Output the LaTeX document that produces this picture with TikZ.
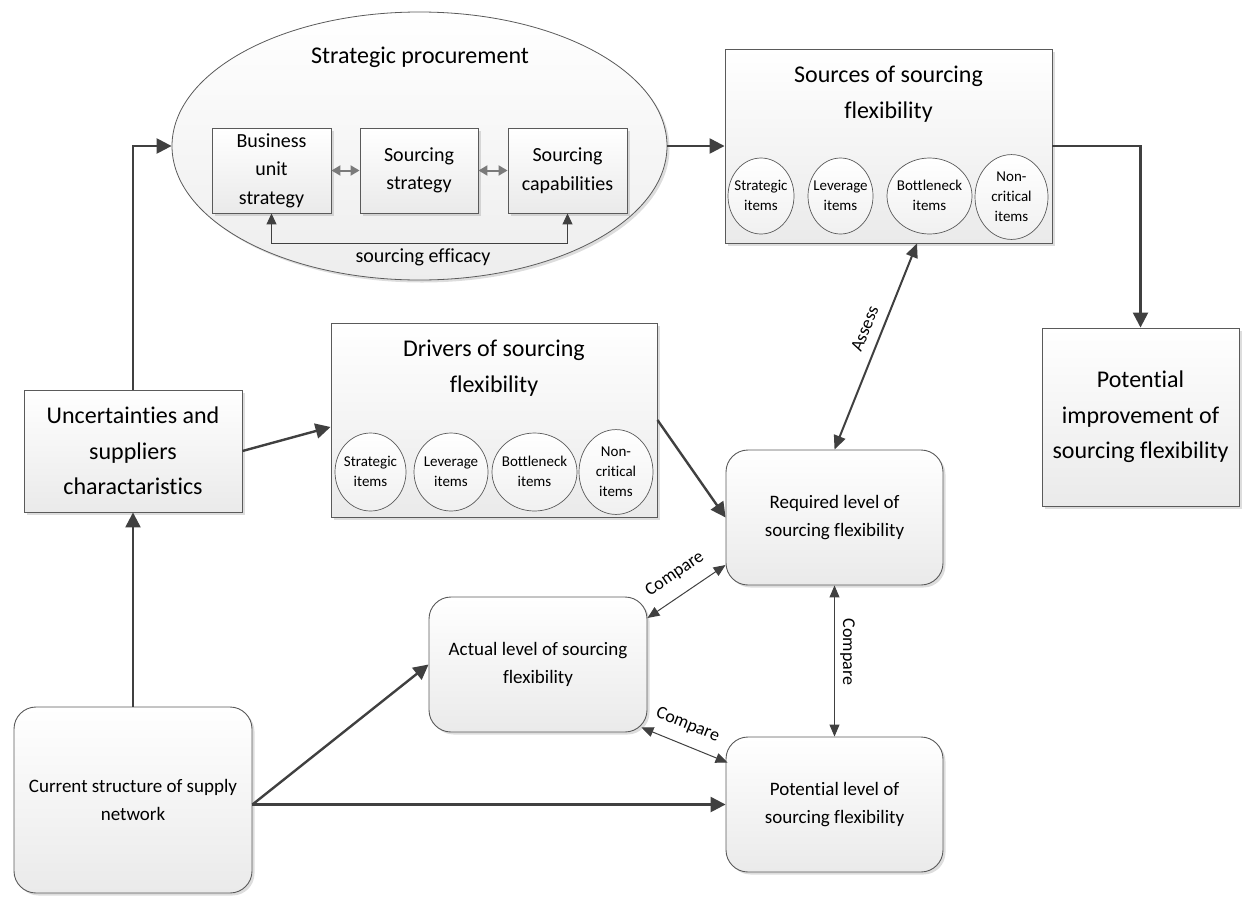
\documentclass[tikz,border=0pt]{standalone}
\usepackage{fontspec}
\setmainfont{Carlito}[Ligatures=NoCommon]
\usetikzlibrary{arrows.meta,shapes.geometric,shadows}
\definecolor{edgegray}{HTML}{5A5A5A}
\definecolor{inkgray}{HTML}{404040}
\definecolor{fillend}{HTML}{EAEAEA}
\definecolor{tipgray}{HTML}{7A7A7A}
% two-line text inside an item circle, taking no width of its own
\newcommand\cellstack[1]{\makebox[0pt]{\begin{tabular}{@{}c@{}}#1\end{tabular}}}
\begin{document}
\begin{tikzpicture}[x=1pt,y=-1pt,
  softshadow/.style={drop shadow={shadow xshift=2.5pt,shadow yshift=-2.5pt,opacity=0.22,fill=black!60}},
  box/.style={draw=edgegray,line width=0.9pt,top color=white,bottom color=fillend,softshadow,align=center,inner sep=0pt},
  roundbox/.style={box,rounded corners=22pt},
  itemnode/.style={ellipse,draw=edgegray,line width=0.7pt,top color=white,bottom color=fillend!70,inner sep=0pt,font=\fontsize{15}{20}\selectfont},
  bigtext/.style={font=\fontsize{24}{35.5}\selectfont,align=center},
  midtext/.style={font=\fontsize{19}{28}\selectfont,align=center},
  subtext/.style={font=\fontsize{20}{28.5}\selectfont,align=center},
  labeltext/.style={font=\fontsize{18}{20}\selectfont,inner sep=2pt},
  flow/.style={draw=inkgray,line width=2.4pt,-{Triangle[length=15pt,width=15pt]}},
  assessline/.style={draw=inkgray,line width=2pt,{Triangle[length=14pt,width=12pt]}-{Triangle[length=14pt,width=12pt]}},
  cmpline/.style={draw=inkgray,line width=1pt,{Triangle[length=12pt,width=10pt]}-{Triangle[length=12pt,width=10pt]}},
  effline/.style={draw=inkgray,line width=1pt,{Triangle[length=11pt,width=10pt]}-{Triangle[length=11pt,width=10pt]}},
  linkline/.style={draw=tipgray,line width=2pt,{Triangle[length=9pt,width=10pt]}-{Triangle[length=9pt,width=10pt]}}
]
\useasboundingbox (0,0) rectangle (1246,897);

% strategic procurement ellipse with its three boxes
\node[ellipse,draw=edgegray,line width=0.8pt,top color=white,bottom color=fillend!85,softshadow,
      minimum width=495pt,minimum height=268pt,inner sep=0pt] (proc) at (419.5,146) {};
\node[bigtext] (proctitle) at (420,57) {Strategic procurement};
\node[box,subtext,minimum width=119pt,minimum height=85pt] (bus) at (271.5,170.5) {Business\\unit\\strategy};
\node[box,subtext,minimum width=118pt,minimum height=85pt] (sstr) at (419,170.5) {Sourcing\\strategy};
\node[box,subtext,minimum width=119pt,minimum height=85pt] (scap) at (567.5,170.5) {Sourcing\\capabilities};

% sources of sourcing flexibility
\node[box,minimum width=327pt,minimum height=194pt] (src) at (888.5,146) {};
\node[bigtext] (srctitle) at (888.5,94) {Sources of sourcing\\flexibility};
\node[itemnode,minimum width=66pt,minimum height=76pt] (s1) at (761,196) {\cellstack{Strategic\\items}};
\node[itemnode,minimum width=65pt,minimum height=76pt] (s2) at (840.5,196) {\cellstack{Leverage\\items}};
\node[itemnode,minimum width=85pt,minimum height=76pt] (s3) at (929.5,196) {\cellstack{Bottleneck\\items}};
\node[itemnode,minimum width=73pt,minimum height=78pt] (s4) at (1011.5,197) {\cellstack{Non-\\critical\\items}};

% drivers of sourcing flexibility
\node[box,minimum width=326pt,minimum height=194pt] (drv) at (494,420) {};
\node[bigtext] (drvtitle) at (494,368) {Drivers of sourcing\\flexibility};
\node[itemnode,minimum width=71pt,minimum height=78pt] (d1) at (370.5,472) {\cellstack{Strategic\\items}};
\node[itemnode,minimum width=74pt,minimum height=78pt] (d2) at (451,472) {\cellstack{Leverage\\items}};
\node[itemnode,minimum width=85pt,minimum height=78pt] (d3) at (534.5,472) {\cellstack{Bottleneck\\items}};
\node[itemnode,minimum width=74pt,minimum height=78pt] (d4) at (616,472) {\cellstack{Non-\\critical\\items}};

% remaining boxes
\node[box,bigtext,minimum width=218pt,minimum height=122pt] (unc) at (133,451) {Uncertainties and\\suppliers\\charactaristics};
\node[box,bigtext,minimum width=197pt,minimum height=178pt] (imp) at (1140.5,417) {Potential\\improvement of\\sourcing flexibility};
\node[roundbox,midtext,minimum width=238pt,minimum height=186pt] (cur) at (133,800) {Current structure of supply\\network};
\node[roundbox,midtext,minimum width=218pt,minimum height=135pt] (act) at (538,664.5) {Actual level of sourcing\\flexibility};
\node[roundbox,midtext,minimum width=217pt,minimum height=135pt] (req) at (834.5,517.5) {Required level of\\sourcing flexibility};
\node[roundbox,midtext,minimum width=217pt,minimum height=135pt] (pot) at (834.5,804.5) {Potential level of\\sourcing flexibility};

% links inside the ellipse
\draw[linkline] (bus.east) -- (sstr.west);
\draw[linkline] (sstr.east) -- (scap.west);
\draw[effline] (bus.south) -- ++(0,30) -| (scap.south);
\node[subtext] (efflabel) at (423,257) {sourcing efficacy};

% main flow
\draw[flow] (unc.north) |- (proc.west);
\draw[flow] (proc.east) -- (src.west);
\draw[flow] (src.east) -| (imp.north);
\draw[flow] (unc.east) -- ([yshift=-7pt]drv.west);
\draw[flow] (drv.east) -- (req.west);
\draw[flow] (cur.north) -- (unc.south);
\draw[flow] (cur.east |- pot.west) -- (act.west);
\draw[flow] (cur.east |- pot.west) -- (pot.west);

% assessment and comparisons
\draw[assessline] (req.north) -- node[pos=0.556,sloped,above=10pt,labeltext,inner sep=0pt] {Assess} ([xshift=28.5pt]src.south);
\draw[cmpline] ([yshift=46.5pt]act.east) -- node[midway,sloped,above=11pt,labeltext] {Compare} ([yshift=-47.5pt]req.west);
\draw[cmpline] ([xshift=-6pt,yshift=5pt]act.south east) -- node[pos=0.45,sloped,above=10pt,labeltext] {Compare} ([xshift=2pt,yshift=-26pt]pot.north west);
\draw[cmpline] (req.south) -- node[pos=0.44,xshift=13pt,rotate=-90,labeltext] {Compare} (pot.north);
\end{tikzpicture}
\end{document}
